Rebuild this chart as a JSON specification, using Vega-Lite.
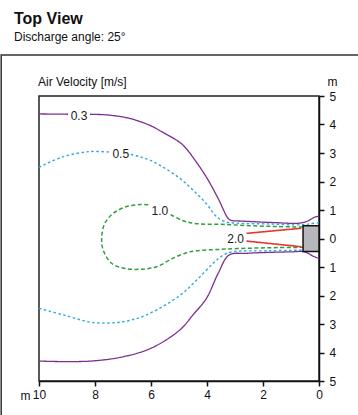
{
  "$schema": "https://vega.github.io/schema/vega-lite/v6.json",
  "width": 280,
  "height": 285,
  "autosize": {"type": "none"},
  "padding": {"left": 39, "top": 96, "right": 39, "bottom": 34},
  "background": "white",
  "title": {
    "text": "Top View",
    "subtitle": "Discharge angle: 25°",
    "anchor": "start",
    "frame": "group",
    "dx": -25,
    "offset": 11.5,
    "font": "Liberation Sans",
    "fontSize": 16,
    "fontWeight": "bold",
    "color": "#111111",
    "subtitleFont": "Liberation Sans",
    "subtitleFontSize": 12,
    "subtitleColor": "#111111",
    "subtitlePadding": 5
  },
  "config": {
    "view": {"stroke": "#222222", "strokeWidth": 1.5},
    "axis": {
      "labelFont": "Liberation Sans",
      "titleFont": "Liberation Sans",
      "labelColor": "#111111",
      "titleColor": "#111111",
      "labelFontSize": 12,
      "titleFontSize": 12,
      "titleFontWeight": "normal",
      "grid": false
    }
  },
  "datasets": {
    "contours": [
      {"s": "a", "c": "0.3", "i": 0, "x": 10, "y": 4.37},
      {"s": "a", "c": "0.3", "i": 1, "x": 8.96, "y": 4.36},
      {"s": "b", "c": "0.3", "i": 0, "x": 8.18, "y": 4.36},
      {"s": "b", "c": "0.3", "i": 1, "x": 7.5, "y": 4.33},
      {"s": "b", "c": "0.3", "i": 2, "x": 6.75, "y": 4.21},
      {"s": "b", "c": "0.3", "i": 3, "x": 6.04, "y": 3.97},
      {"s": "b", "c": "0.3", "i": 4, "x": 5.62, "y": 3.75},
      {"s": "b", "c": "0.3", "i": 5, "x": 4.97, "y": 3.37},
      {"s": "b", "c": "0.3", "i": 6, "x": 4.73, "y": 3.14},
      {"s": "b", "c": "0.3", "i": 7, "x": 4.43, "y": 2.75},
      {"s": "b", "c": "0.3", "i": 8, "x": 4.02, "y": 2.15},
      {"s": "b", "c": "0.3", "i": 9, "x": 3.6, "y": 1.4},
      {"s": "b", "c": "0.3", "i": 10, "x": 3.25, "y": 0.71},
      {"s": "b", "c": "0.3", "i": 11, "x": 3.15, "y": 0.64},
      {"s": "b", "c": "0.3", "i": 12, "x": 2.72, "y": 0.61},
      {"s": "b", "c": "0.3", "i": 13, "x": 1.65, "y": 0.56},
      {"s": "b", "c": "0.3", "i": 14, "x": 0.69, "y": 0.54},
      {"s": "b", "c": "0.3", "i": 15, "x": 0.39, "y": 0.62},
      {"s": "b", "c": "0.3", "i": 16, "x": 0.15, "y": 0.75},
      {"s": "b", "c": "0.3", "i": 17, "x": 0, "y": 0.79},
      {"s": "c", "c": "0.3", "i": 0, "x": 10, "y": -4.3},
      {"s": "c", "c": "0.3", "i": 1, "x": 9, "y": -4.32},
      {"s": "c", "c": "0.3", "i": 2, "x": 8, "y": -4.29},
      {"s": "c", "c": "0.3", "i": 3, "x": 7, "y": -4.15},
      {"s": "c", "c": "0.3", "i": 4, "x": 6, "y": -3.85},
      {"s": "c", "c": "0.3", "i": 5, "x": 4.97, "y": -3.21},
      {"s": "c", "c": "0.3", "i": 6, "x": 4.5, "y": -2.68},
      {"s": "c", "c": "0.3", "i": 7, "x": 4.02, "y": -2.1},
      {"s": "c", "c": "0.3", "i": 8, "x": 3.6, "y": -1.22},
      {"s": "c", "c": "0.3", "i": 9, "x": 3.21, "y": -0.58},
      {"s": "c", "c": "0.3", "i": 10, "x": 2.59, "y": -0.52},
      {"s": "c", "c": "0.3", "i": 11, "x": 1.05, "y": -0.47},
      {"s": "c", "c": "0.3", "i": 12, "x": 0.51, "y": -0.47},
      {"s": "c", "c": "0.3", "i": 13, "x": 0.21, "y": -0.62},
      {"s": "c", "c": "0.3", "i": 14, "x": 0, "y": -0.7},
      {"s": "d", "c": "0.5", "i": 0, "x": 10, "y": 2.5},
      {"s": "d", "c": "0.5", "i": 1, "x": 9.13, "y": 2.87},
      {"s": "d", "c": "0.5", "i": 2, "x": 8.18, "y": 3.05},
      {"s": "d", "c": "0.5", "i": 3, "x": 7.45, "y": 3.03},
      {"s": "e", "c": "0.5", "i": 0, "x": 6.72, "y": 2.95},
      {"s": "e", "c": "0.5", "i": 1, "x": 6.4, "y": 2.87},
      {"s": "e", "c": "0.5", "i": 2, "x": 6.04, "y": 2.75},
      {"s": "e", "c": "0.5", "i": 3, "x": 5.56, "y": 2.5},
      {"s": "e", "c": "0.5", "i": 4, "x": 4.97, "y": 2.11},
      {"s": "e", "c": "0.5", "i": 5, "x": 4.5, "y": 1.7},
      {"s": "e", "c": "0.5", "i": 6, "x": 4.02, "y": 1.22},
      {"s": "e", "c": "0.5", "i": 7, "x": 3.66, "y": 0.77},
      {"s": "e", "c": "0.5", "i": 8, "x": 3.36, "y": 0.59},
      {"s": "e", "c": "0.5", "i": 9, "x": 2.95, "y": 0.54},
      {"s": "e", "c": "0.5", "i": 10, "x": 1.76, "y": 0.51},
      {"s": "e", "c": "0.5", "i": 11, "x": 0.58, "y": 0.48},
      {"s": "e", "c": "0.5", "i": 12, "x": 0.3, "y": 0.52},
      {"s": "e", "c": "0.5", "i": 13, "x": 0, "y": 0.56},
      {"s": "f", "c": "0.5", "i": 0, "x": 10, "y": -2.45},
      {"s": "f", "c": "0.5", "i": 1, "x": 9.13, "y": -2.68},
      {"s": "f", "c": "0.5", "i": 2, "x": 8.06, "y": -2.95},
      {"s": "f", "c": "0.5", "i": 3, "x": 7, "y": -2.92},
      {"s": "f", "c": "0.5", "i": 4, "x": 6.16, "y": -2.68},
      {"s": "f", "c": "0.5", "i": 5, "x": 4.97, "y": -2.0},
      {"s": "f", "c": "0.5", "i": 6, "x": 4.37, "y": -1.46},
      {"s": "f", "c": "0.5", "i": 7, "x": 3.78, "y": -0.87},
      {"s": "f", "c": "0.5", "i": 8, "x": 3.42, "y": -0.58},
      {"s": "f", "c": "0.5", "i": 9, "x": 3.11, "y": -0.47},
      {"s": "f", "c": "0.5", "i": 10, "x": 1.76, "y": -0.43},
      {"s": "f", "c": "0.5", "i": 11, "x": 0.58, "y": -0.41},
      {"s": "g", "c": "1.0", "i": 0, "x": 5.3, "y": 0.84},
      {"s": "g", "c": "1.0", "i": 1, "x": 4.85, "y": 0.62},
      {"s": "g", "c": "1.0", "i": 2, "x": 4.37, "y": 0.52},
      {"s": "g", "c": "1.0", "i": 3, "x": 3.5, "y": 0.5},
      {"s": "g", "c": "1.0", "i": 4, "x": 2.5, "y": 0.45},
      {"s": "g", "c": "1.0", "i": 5, "x": 1.5, "y": 0.42},
      {"s": "g", "c": "1.0", "i": 6, "x": 0.58, "y": 0.4},
      {"s": "h", "c": "1.0", "i": 0, "x": 6.1, "y": 1.18},
      {"s": "h", "c": "1.0", "i": 1, "x": 6.4, "y": 1.19},
      {"s": "h", "c": "1.0", "i": 2, "x": 6.87, "y": 1.12},
      {"s": "h", "c": "1.0", "i": 3, "x": 7.35, "y": 0.88},
      {"s": "h", "c": "1.0", "i": 4, "x": 7.65, "y": 0.53},
      {"s": "h", "c": "1.0", "i": 5, "x": 7.76, "y": 0.06},
      {"s": "h", "c": "1.0", "i": 6, "x": 7.71, "y": -0.4},
      {"s": "h", "c": "1.0", "i": 7, "x": 7.41, "y": -0.87},
      {"s": "h", "c": "1.0", "i": 8, "x": 6.93, "y": -1.05},
      {"s": "h", "c": "1.0", "i": 9, "x": 6.4, "y": -1.08},
      {"s": "h", "c": "1.0", "i": 10, "x": 5.8, "y": -0.99},
      {"s": "h", "c": "1.0", "i": 11, "x": 5.21, "y": -0.69},
      {"s": "h", "c": "1.0", "i": 12, "x": 4.73, "y": -0.5},
      {"s": "h", "c": "1.0", "i": 13, "x": 4.37, "y": -0.43},
      {"s": "h", "c": "1.0", "i": 14, "x": 3.5, "y": -0.38},
      {"s": "h", "c": "1.0", "i": 15, "x": 2.47, "y": -0.34},
      {"s": "h", "c": "1.0", "i": 16, "x": 1.5, "y": -0.32},
      {"s": "h", "c": "1.0", "i": 17, "x": 0.58, "y": -0.31},
      {"s": "j", "c": "2.0", "i": 0, "x": 2.59, "y": 0.18},
      {"s": "j", "c": "2.0", "i": 1, "x": 0.63, "y": 0.36},
      {"s": "k", "c": "2.0", "i": 0, "x": 2.59, "y": -0.09},
      {"s": "k", "c": "2.0", "i": 1, "x": 0.63, "y": -0.29}
    ],
    "labels": [
      {"x": 8.57, "y": 4.31, "t": "0.3"},
      {"x": 7.08, "y": 2.97, "t": "0.5"},
      {"x": 5.68, "y": 0.96, "t": "1.0"},
      {"x": 2.98, "y": -0.02, "t": "2.0"}
    ],
    "device": [{"x": 0, "x2": 0.57, "y": -0.46, "y2": 0.45}],
    "frame": [{"x": 11.35, "x2": -1.5, "y": 6.44, "y2": -6.6}]
  },
  "resolve": {"axis": {"y": "independent"}},
  "layer": [
    {
      "data": {"name": "contours"},
      "mark": {"type": "line", "interpolate": "catmull-rom"},
      "encoding": {
        "x": {
          "field": "x",
          "type": "quantitative",
          "scale": {"domain": [0, 10], "reverse": true, "nice": false, "zero": false},
          "axis": {
            "orient": "bottom",
            "values": [0, 1, 2, 3, 4, 5, 6, 7, 8, 9, 10],
            "labelExpr": "datum.value % 2 === 0 ? datum.label : ''",
            "labelOverlap": false,
            "labelFlush": false,
            "title": "m",
            "titleAngle": 0,
            "titleX": -14,
            "titleY": 18.5,
            "titleAlign": "center",
            "titleBaseline": "alphabetic",
            "domainColor": "#111111",
            "domainWidth": 1.5,
            "tickColor": "#111111",
            "tickWidth": 1.5,
            "tickSize": 5,
            "labelPadding": 3
          }
        },
        "y": {
          "field": "y",
          "type": "quantitative",
          "scale": {"domain": [-5, 5], "nice": false, "zero": false},
          "axis": {
            "orient": "right",
            "values": [-5, -4, -3, -2, -1, 0, 1, 2, 3, 4, 5],
            "labelExpr": "'' + abs(datum.value)",
            "labelOverlap": false,
            "labelFlush": false,
            "title": "m",
            "titleAngle": 0,
            "titleX": 13,
            "titleY": -10.5,
            "titleAlign": "center",
            "titleBaseline": "alphabetic",
            "domainColor": "#111111",
            "domainWidth": 1.5,
            "tickColor": "#111111",
            "tickWidth": 1.5,
            "tickSize": 5,
            "labelPadding": 5
          }
        },
        "detail": {"field": "s"},
        "order": {"field": "i", "type": "quantitative"},
        "color": {
          "field": "c",
          "type": "nominal",
          "scale": {"domain": ["0.3", "0.5", "1.0", "2.0"], "range": ["#7d2f8f", "#2ea8df", "#2f9e3f", "#e8352e"]},
          "legend": null
        },
        "strokeDash": {
          "field": "c",
          "type": "nominal",
          "scale": {"domain": ["0.3", "0.5", "1.0", "2.0"], "range": [[1, 0], [2.5, 2.5], [4, 2.5], [1, 0]]},
          "legend": null
        },
        "strokeWidth": {
          "field": "c",
          "type": "nominal",
          "scale": {"domain": ["0.3", "0.5", "1.0", "2.0"], "range": [1.3, 1.6, 1.6, 1.1]},
          "legend": null
        }
      }
    },
    {
      "data": {"name": "device"},
      "mark": {"type": "rect", "fill": "#b5b7ba", "stroke": "#111111", "strokeWidth": 1.5},
      "encoding": {
        "x": {"field": "x", "type": "quantitative"},
        "x2": {"field": "x2"},
        "y": {
          "field": "y",
          "type": "quantitative",
          "axis": {
            "orient": "left",
            "title": "Air Velocity [m/s]",
            "titleAngle": 0,
            "titleX": -1.5,
            "titleY": -11,
            "titleAlign": "left",
            "titleBaseline": "alphabetic",
            "domain": false,
            "ticks": false,
            "labels": false
          }
        },
        "y2": {"field": "y2"}
      }
    },
    {
      "data": {"name": "labels"},
      "mark": {"type": "text", "font": "Liberation Sans", "fontSize": 12, "color": "#1a1a1a", "baseline": "middle", "align": "center"},
      "encoding": {
        "x": {"field": "x", "type": "quantitative"},
        "y": {"field": "y", "type": "quantitative", "axis": null},
        "text": {"field": "t"}
      }
    },
    {
      "data": {"name": "frame"},
      "mark": {"type": "rect", "fill": null, "filled": false, "stroke": "#333333", "strokeWidth": 1.5, "clip": false},
      "encoding": {
        "x": {"field": "x", "type": "quantitative"},
        "x2": {"field": "x2"},
        "y": {"field": "y", "type": "quantitative", "axis": null},
        "y2": {"field": "y2"}
      }
    }
  ]
}
